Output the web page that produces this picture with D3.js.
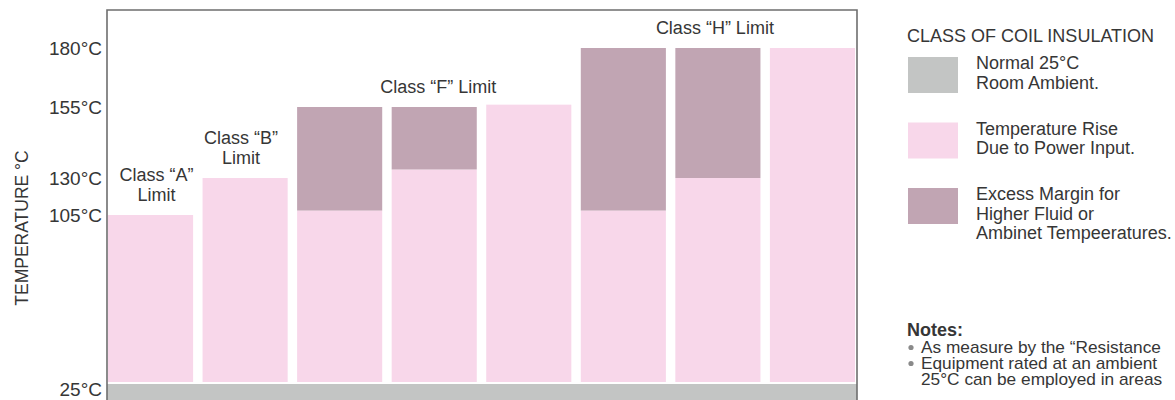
<!DOCTYPE html>
<html><head><meta charset="utf-8">
<script src="https://cdn.jsdelivr.net/npm/d3@7"></script>
<style>
body{margin:0;background:#fff}
text{font-family:"Liberation Sans", Arial, Helvetica, sans-serif; fill:#363636}
</style>
</head><body>
<svg id="chart" width="1175" height="400"></svg>
<script>
// ---- data ----
const categories = ["Class A","Class B","Class F 1","Class F 2","Class F 3","Class H 1","Class H 2","Class H 3"];
const ambientTemp = 25;
const riseTemp   = [105,130,108,133,156,108,130,180];
const marginTemp = [null,null,155,155,null,180,180,null];
const tickValues = [25,105,130,155,180];
const tickLabels = ["25°C","105°C","130°C","155°C","180°C"];
const limitBars   = ["Class A","Class B","Class F 2","Class H 2"];
const limitValues = [105,130,155,180];
const limitLabels = [["Class “A”","Limit"],["Class “B”","Limit"],["Class “F” Limit"],["Class “H” Limit"]];
const yTitle = "TEMPERATURE °C";
const legendTitle = "CLASS OF COIL INSULATION";
const legendItems = [["Normal 25°C","Room Ambient."],["Temperature Rise","Due to Power Input."],["Excess Margin for","Higher Fluid or","Ambinet Tempeeratures."]];
const notesTitle = "Notes:";
const notes = [["As measure by the “Resistance"],["Equipment rated at an ambient","25°C can be employed in areas"]];

// ---- styles ----
const colGray = "#c3c5c4", colPink = "#f8d7ea", colMauve = "#c1a5b3";
const legendColors = [colGray, colPink, colMauve];
const limitDx = [6, -4, 4, -3];

const svg = d3.select("#chart");
const frameL = 107, frameR = 857, frameT = 10;

const x = d3.scaleBand().domain(categories).range([108, 855]).paddingInner(0.1).paddingOuter(0);
const y = d3.scaleLinear().domain([25,105,130,155,180]).range([383,215,178,107,48]);

// ambient gray band
svg.append("rect").attr("x", frameL).attr("width", frameR - frameL)
  .attr("y", y(ambientTemp) + 1).attr("height", 40).attr("fill", colGray);

// pink rise bars
svg.append("g").selectAll("rect").data(categories).join("rect")
  .attr("x", d => x(d)).attr("width", x.bandwidth())
  .attr("y", (d,i) => y(riseTemp[i]))
  .attr("height", (d,i) => y(ambientTemp) - 1 - y(riseTemp[i]))
  .attr("fill", colPink);

// mauve margin bars
svg.append("g").selectAll("rect").data(categories.filter((d,i)=>marginTemp[i]!=null)).join("rect")
  .attr("x", d => x(d)).attr("width", x.bandwidth())
  .attr("y", d => y(marginTemp[categories.indexOf(d)]))
  .attr("height", d => { const i = categories.indexOf(d); return y(riseTemp[i]) - y(marginTemp[i]); })
  .attr("fill", colMauve);

// frame
svg.append("path")
  .attr("d", `M${frameL},400 V${frameT} H${frameR} V400`)
  .attr("fill","none").attr("stroke","#6e6e6e").attr("stroke-width",1.6);

// axis
const axis = svg.append("g").attr("transform", `translate(${frameL},0)`)
  .call(d3.axisLeft(y).tickValues(tickValues).tickFormat((d,i)=>tickLabels[i]).tickSize(0).tickPadding(5));
axis.select(".domain").remove();
axis.selectAll("text").attr("font-size", 19).attr("fill", "#363636")
  .style("font-family", '"Liberation Sans", Arial, sans-serif')
  .attr("dy", d => d === tickValues[0] ? "0.68em" : "0.32em");

// y title
svg.append("text").attr("transform", "translate(28,228) rotate(-90)")
  .attr("text-anchor","middle").attr("font-size",17.5).text(yTitle);

// limit labels
limitBars.forEach((b,k) => {
  const lines = limitLabels[k];
  const cx = x(b) + x.bandwidth()/2 + limitDx[k];
  const lastBase = y(limitValues[k]) - 14;
  lines.forEach((t,j) => {
    svg.append("text").attr("x", cx).attr("y", lastBase - (lines.length-1-j)*20)
      .attr("text-anchor","middle").attr("font-size",18).text(t);
  });
});

// legend
svg.append("text").attr("x", 907).attr("y", 42).attr("font-size", 18).text(legendTitle);
legendItems.forEach((lines,k) => {
  const top = 57 + k*65.5;
  svg.append("rect").attr("x", 908).attr("y", top).attr("width", 50).attr("height", 36).attr("fill", legendColors[k]);
  lines.forEach((t,j) => {
    svg.append("text").attr("x", 976).attr("y", top + 12 + j*19.5).attr("font-size", 18).text(t);
  });
});

// notes
svg.append("text").attr("x", 907).attr("y", 336).attr("font-size", 18).attr("font-weight","bold").attr("fill","#222").text(notesTitle);
let line = 0;
notes.forEach(group => {
  group.forEach((t,j) => {
    const yy = 353 + line*16;
    if (j === 0) svg.append("circle").attr("cx", 911).attr("cy", yy - 5.5).attr("r", 2.6).attr("fill", "#8a8a8a");
    svg.append("text").attr("transform", `translate(921,${yy}) scale(1.08,1)`)
      .attr("font-size", 16).attr("fill","#222").text(t);
    line++;
  });
});
</script>
</body></html>
